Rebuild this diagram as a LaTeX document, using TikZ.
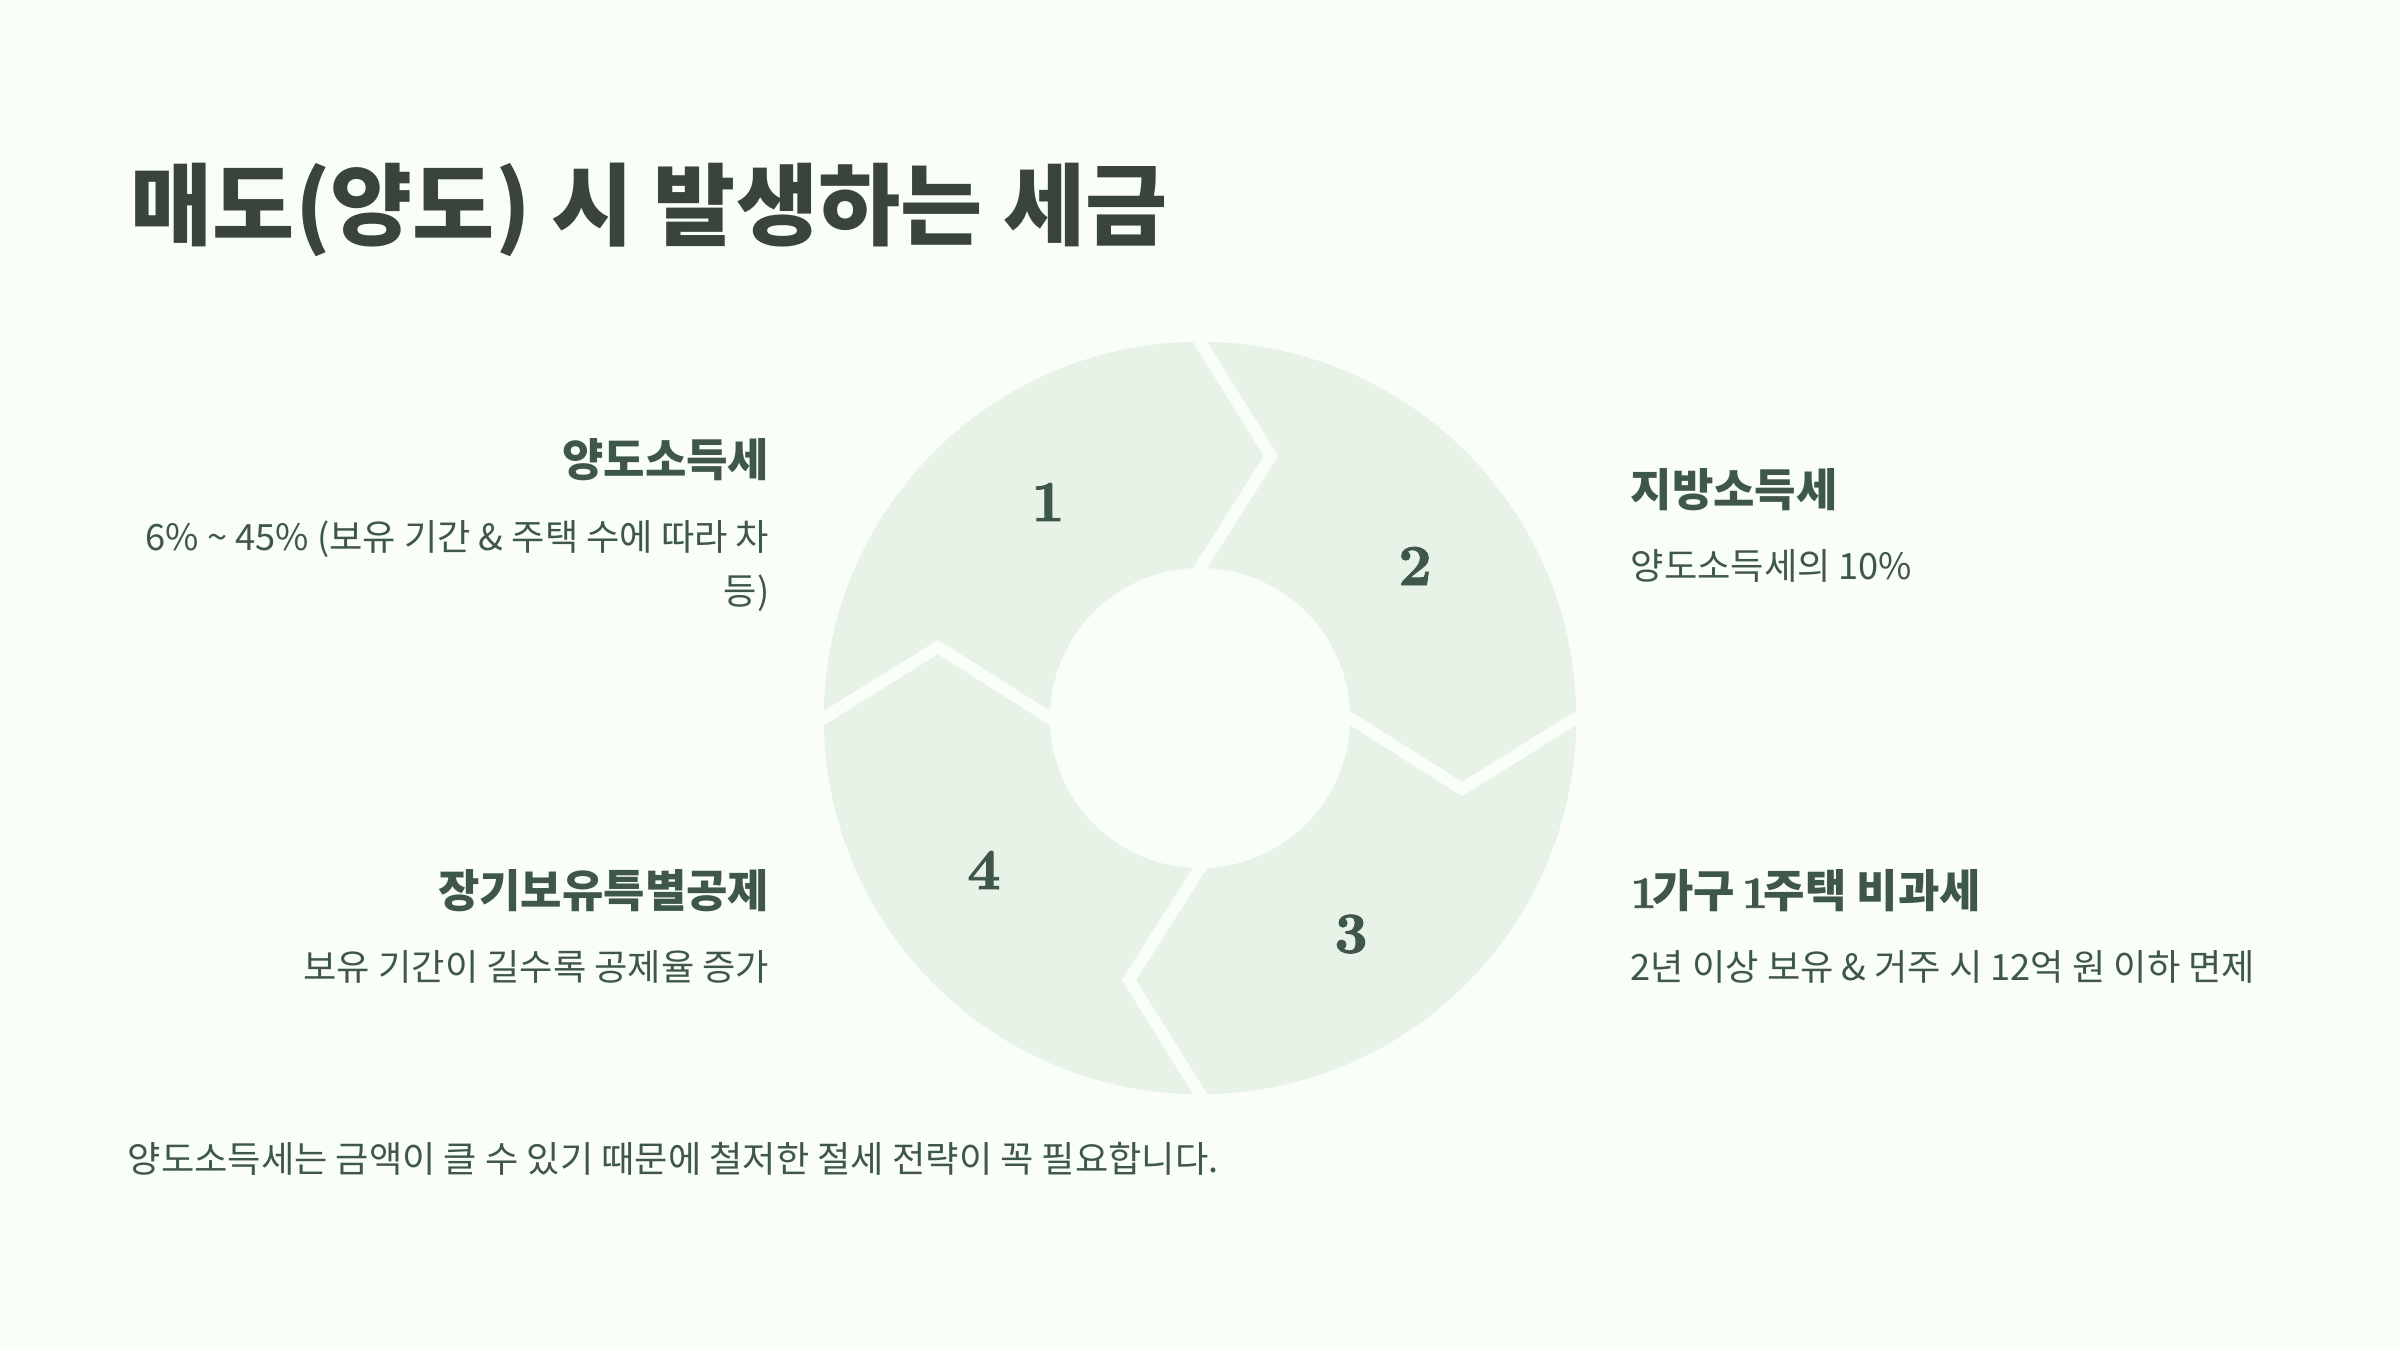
\documentclass[tikz,border=0pt]{standalone}
\usepackage{fontspec}
\setmainfont{Noto Sans CJK KR}
\newfontfamily\numfont{lmroman10-bold.otf}[FakeBold=1.6]
\usetikzlibrary{calc}
\definecolor{bgc}{HTML}{F9FEF9}
\definecolor{ringc}{HTML}{E8F3E8}
\definecolor{titlec}{HTML}{39443D}
\definecolor{textc}{HTML}{3F564A}
\tikzset{
  sepline/.style={draw=bgc, line width=0.12cm, line join=miter},
  titletext/.style={text=titlec, font=\fontsize{25.4}{30}\selectfont\bfseries, inner sep=0pt},
  headtext/.style={text=textc, font=\fontsize{12.8}{15}\selectfont\bfseries, inner sep=0pt},
  bodytext/.style={text=textc, font=\fontsize{10.3}{15.2}\selectfont, inner sep=0pt},
  numtext/.style={text=textc, font=\fontsize{16.5}{18}\selectfont\numfont, inner sep=0pt}
}
\begin{document}
\begin{tikzpicture}[x=0.01cm,y=-0.01cm]
\useasboundingbox (0,0) rectangle (2400,1350);
\fill[bgc] (0,0) rectangle (2400,1350);
% ring
\coordinate (C) at (1200,718);
\fill[ringc, even odd rule] (C) circle[radius=3.76cm] (C) circle[radius=1.5cm];
% separators
\coordinate (O1) at (1200,342); \coordinate (A1) at (1271,456); \coordinate (I1) at (1200,568);
\coordinate (O2) at (1576,718); \coordinate (A2) at (1462,789); \coordinate (I2) at (1350,718);
\coordinate (O3) at (1200,1094); \coordinate (A3) at (1129,980); \coordinate (I3) at (1200,868);
\coordinate (O4) at (824,718); \coordinate (A4) at (938,647); \coordinate (I4) at (1050,718);
\foreach \k in {1,2,3,4}{
  \draw[sepline] ($(A\k)!1.15!(O\k)$) -- (A\k) -- ($(A\k)!1.15!(I\k)$);
}
% numbers
\node[numtext] (n1) at (1048,502) {1};
\node[numtext] (n2) at (1415,566) {2};
\node[numtext] (n3) at (1351,934) {3};
\node[numtext] (n4) at (984,870) {4};
% title
\node[titletext, anchor=west] (title) at (130,210) {매도(양도) 시 발생하는 세금};
% left texts
\node[headtext, anchor=east] (h1) at (770,460) {양도소득세};
\node[bodytext, anchor=east, align=right] (b1) at (770,566) {6\% \textasciitilde{} 45\% (보유 기간 \& 주택 수에 따라 차\\등)};
\node[headtext, anchor=east] (h4) at (770,891) {장기보유특별공제};
\node[bodytext, anchor=east] (b4) at (770,967) {보유 기간이 길수록 공제율 증가};
% right texts
\node[headtext, anchor=west] (h2) at (1630,490) {지방소득세};
\node[bodytext, anchor=west] (b2) at (1630,566) {양도소득세의 10\%};
\node[headtext, anchor=west] (h3) at (1630,891) {{\numfont 1}\kern-1.2pt가구\kern-1pt{} {\numfont 1}\kern-1.2pt주택 비과세};
\node[bodytext, anchor=west] (b3) at (1630,967) {2년 이상 보유 \& 거주 시 12억 원 이하 면제};
% footer
\node[bodytext, anchor=west] (foot) at (127,1159) {양도소득세는 금액이 클 수 있기 때문에 철저한 절세 전략이 꼭 필요합니다.};
\end{tikzpicture}
\end{document}
